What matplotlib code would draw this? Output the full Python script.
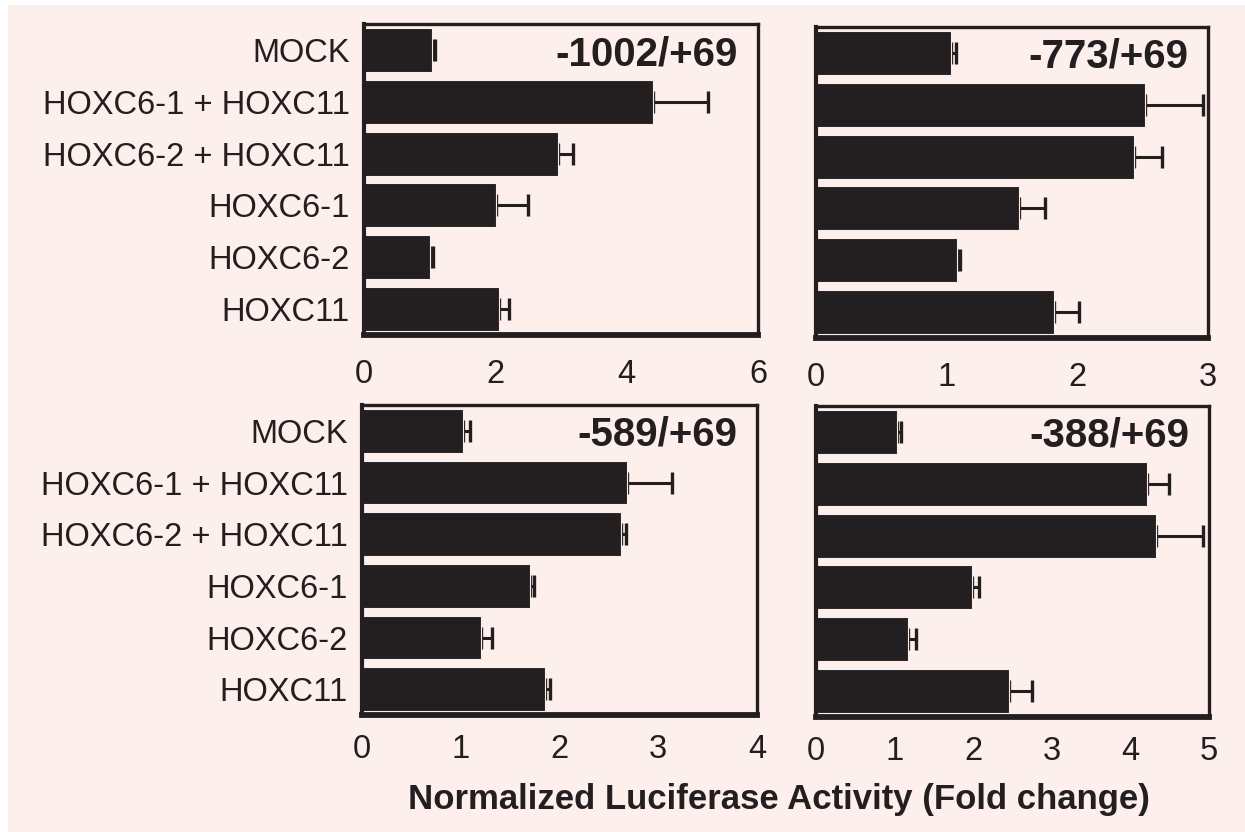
import matplotlib
matplotlib.use("Agg")
import matplotlib.pyplot as plt
from matplotlib.patches import Rectangle
import numpy as np

plt.rcParams['font.family'] = ['Liberation Sans', 'DejaVu Sans']

categories = ["MOCK", "HOXC6-1 + HOXC11", "HOXC6-2 + HOXC11",
              "HOXC6-1", "HOXC6-2", "HOXC11"]

titles = ["-1002/+69", "-773/+69", "-589/+69", "-388/+69"]

vals_1002 = [1.03, 4.40, 2.95, 2.01, 1.00, 2.05]
err_1002 = [0.05, 0.84, 0.23, 0.49, 0.05, 0.16]

vals_773 = [1.03, 2.52, 2.43, 1.55, 1.08, 1.82]
err_773 = [0.04, 0.44, 0.22, 0.20, 0.02, 0.19]

vals_589 = [1.02, 2.68, 2.62, 1.70, 1.20, 1.85]
err_589 = [0.07, 0.46, 0.05, 0.04, 0.12, 0.05]

vals_388 = [1.03, 4.21, 4.32, 1.98, 1.17, 2.46]
err_388 = [0.05, 0.28, 0.60, 0.10, 0.10, 0.29]

xmax_list = [6, 3, 4, 5]
xticks_list = [[0, 2, 4, 6], [0, 1, 2, 3], [0, 1, 2, 3, 4], [0, 1, 2, 3, 4, 5]]

W, H = 1245, 832
BG = '#fdefeb'
BAR = '#231f20'

fig = plt.figure(figsize=(W / 100, H / 100), dpi=100)
fig.patch.set_facecolor('white')
fig.patches.append(Rectangle((8 / W, 0), 1 - 8 / W, 1 - 5 / H,
                             transform=fig.transFigure, facecolor=BG,
                             edgecolor='none', zorder=-10))

# panel boxes in pixels: left, right, top, bottom
boxes = [(364, 758, 24, 335), (816, 1208, 27, 338),
         (362, 757, 405, 715), (816, 1209, 406, 717)]
data = [(vals_1002, err_1002), (vals_773, err_773),
        (vals_589, err_589), (vals_388, err_388)]
xpads = [17, 17, 14, 14]

y = np.arange(len(categories))

for i, ((l, r, t, b), (vals, errs)) in enumerate(zip(boxes, data)):
    ax = fig.add_axes([l / W, 1 - b / H, (r - l) / W, (b - t) / H])
    ax.set_facecolor(BG)
    ax.barh(y, vals, height=0.85, color=BAR, edgecolor='#fbeee9',
            linewidth=0.8, zorder=2)
    ax.errorbar(vals, y, xerr=[np.zeros(len(vals)), errs], fmt='none',
                ecolor=BAR, elinewidth=2.2, capsize=8, capthick=2.4, zorder=1)
    ax.set_ylim(5.5, -0.5)
    ax.set_xlim(0, xmax_list[i])
    ax.set_xticks(xticks_list[i])
    ax.tick_params(axis='x', length=0, pad=xpads[i], labelsize=23.5, colors=BAR)
    ax.tick_params(axis='y', length=0, pad=10, labelsize=23.5, colors=BAR)
    if i in (0, 2):
        ax.set_yticks(y)
        ax.set_yticklabels(categories)
    else:
        ax.set_yticks([])
    for side, sp in ax.spines.items():
        sp.set_color(BAR)
        sp.set_linewidth(2.4)
    ax.spines['bottom'].set_linewidth(4.2)
    ax.spines['left'].set_linewidth(3.0)
    ax.text(1 - 20 / (r - l), 1 - 30 / (b - t), titles[i], transform=ax.transAxes,
            ha='right', va='center', fontsize=29, fontweight='bold', color=BAR)

fig.text(779 / W, 1 - 800 / H, "Normalized Luciferase Activity (Fold change)",
         ha='center', va='center', fontsize=25, fontweight='bold', color=BAR)

fig.savefig('out.png', dpi=100, facecolor=fig.get_facecolor())
